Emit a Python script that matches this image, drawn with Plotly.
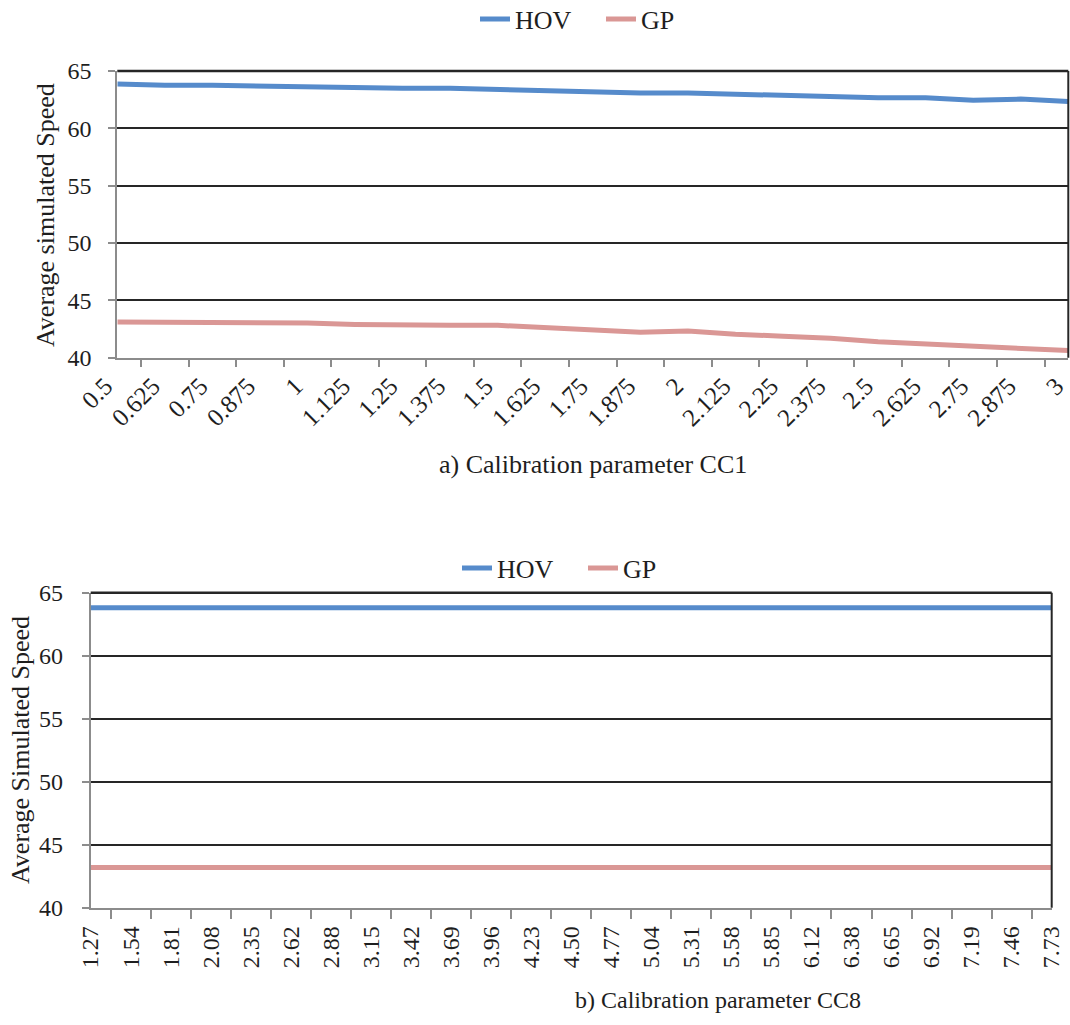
import plotly.graph_objects as go

# ---- data ----
cc1_labels = ["0.5", "0.625", "0.75", "0.875", "1", "1.125", "1.25", "1.375", "1.5", "1.625",
              "1.75", "1.875", "2", "2.125", "2.25", "2.375", "2.5", "2.625", "2.75", "2.875", "3"]
cc1_hov = [63.86, 63.75, 63.75, 63.66, 63.66, 63.49, 63.49, 63.49, 63.37, 63.25,
           63.16, 63.08, 63.08, 62.97, 62.88, 62.78, 62.67, 62.67, 62.44, 62.55, 62.35]
cc1_gp = [43.12, 43.12, 43.12, 43.10, 43.03, 42.90, 42.82, 42.82, 42.82, 42.62,
          42.45, 42.22, 42.32, 42.04, 41.88, 41.70, 41.40, 41.22, 41.08, 40.88, 40.62]

cc8_labels = ["1.27", "1.54", "1.81", "2.08", "2.35", "2.62", "2.88", "3.15", "3.42", "3.69",
              "3.96", "4.23", "4.50", "4.77", "5.04", "5.31", "5.58", "5.85", "6.12", "6.38",
              "6.65", "6.92", "7.19", "7.46", "7.73"]
cc8_hov = [63.8] * 25
cc8_gp = [43.2] * 25

# ---- styles ----
W, H = 1070, 1025
FONT = "Liberation Serif, Times New Roman, serif"
TXT = "#1e1e1e"
HOV_C = "#568BCB"
GP_C = "#DA9795"
GRID_C = "#262626"
AX_C = "#8C8C8C"

def px_x(x):
    return x / W

def px_y(y):
    return 1 - y / H

fig = go.Figure()

fig.add_trace(go.Scatter(x=cc1_labels, y=cc1_hov, mode="lines", name="HOV",
                         line=dict(color=HOV_C, width=5), xaxis="x", yaxis="y", legend="legend"))
fig.add_trace(go.Scatter(x=cc1_labels, y=cc1_gp, mode="lines", name="GP",
                         line=dict(color=GP_C, width=5), xaxis="x", yaxis="y", legend="legend"))
fig.add_trace(go.Scatter(x=cc8_labels, y=cc8_hov, mode="lines", name="HOV",
                         line=dict(color=HOV_C, width=5), xaxis="x2", yaxis="y2", legend="legend2"))
fig.add_trace(go.Scatter(x=cc8_labels, y=cc8_gp, mode="lines", name="GP",
                         line=dict(color=GP_C, width=5), xaxis="x2", yaxis="y2", legend="legend2"))

common_y = dict(range=[40, 65], dtick=5, showgrid=True, gridcolor=GRID_C, gridwidth=1.6,
                showline=True, linecolor=AX_C, linewidth=2, ticks="outside", ticklen=7,
                tickcolor=AX_C, tickwidth=1.5, zeroline=False, automargin=False,
                tickfont=dict(family=FONT, size=24, color=TXT))
common_x = dict(type="category", showgrid=False, showline=True, linecolor=AX_C, linewidth=2,
                ticks="outside", tickson="boundaries", tickcolor=AX_C, tickwidth=1.5,
                zeroline=False, automargin=False)

legend_style = dict(orientation="h", yanchor="middle", xanchor="center",
                    font=dict(family=FONT, size=26, color=TXT), bgcolor="rgba(0,0,0,0)",
                    traceorder="normal", entrywidth=81, entrywidthmode="pixels")

fig.update_layout(
    width=W, height=H,
    margin=dict(l=0, r=0, t=0, b=0, autoexpand=False),
    paper_bgcolor="white", plot_bgcolor="white",
    font=dict(family=FONT, color=TXT),
    xaxis=dict(domain=[px_x(117.3), px_x(1068.3)], anchor="y", tickangle=-45, ticklen=7,
               ticklabelstandoff=2, ticklabelshift=-12,
               tickfont=dict(family=FONT, size=25, color=TXT), **common_x),
    yaxis=dict(domain=[px_y(357.7), px_y(71)], anchor="x", ticklabelstandoff=12, **common_y),
    xaxis2=dict(domain=[px_x(90.7), px_x(1051.7)], anchor="y2", tickangle=-90, ticklen=9,
                ticklabelstandoff=7,
                tickfont=dict(family=FONT, size=24, color=TXT), **common_x),
    yaxis2=dict(domain=[px_y(907.7), px_y(592.7)], anchor="x2", ticklabelstandoff=14, **common_y),
    legend=dict(x=px_x(601), y=px_y(19), **legend_style),
    legend2=dict(x=px_x(583), y=px_y(568), **legend_style),
    showlegend=True,
)

# top and right borders of plot areas
for xr, yr in (("x domain", "y domain"), ("x2 domain", "y2 domain")):
    fig.add_shape(type="line", xref=xr, yref=yr, x0=1, x1=1, y0=0, y1=1,
                  line=dict(color=GRID_C, width=2))
    fig.add_shape(type="line", xref=xr, yref=yr, x0=0, x1=1, y0=1, y1=1,
                  line=dict(color=GRID_C, width=2.5))

# titles
fig.add_annotation(text="a) Calibration parameter CC1", xref="paper", yref="paper",
                   x=px_x(593), y=px_y(465), xanchor="center", yanchor="middle", showarrow=False,
                   font=dict(family=FONT, size=26, color=TXT))
fig.add_annotation(text="b) Calibration parameter CC8", xref="paper", yref="paper",
                   x=px_x(718), y=px_y(1000), xanchor="center", yanchor="middle", showarrow=False,
                   font=dict(family=FONT, size=24, color=TXT))
fig.add_annotation(text="Average simulated Speed", xref="paper", yref="paper",
                   x=px_x(46), y=px_y(215), xanchor="center", yanchor="middle", showarrow=False,
                   textangle=-90, font=dict(family=FONT, size=26, color=TXT))
fig.add_annotation(text="Average Simulated Speed", xref="paper", yref="paper",
                   x=px_x(20), y=px_y(750), xanchor="center", yanchor="middle", showarrow=False,
                   textangle=-90, font=dict(family=FONT, size=26, color=TXT))

fig.write_html(
    "out.html",
    config={"displayModeBar": False},
    post_script="document.body.style.margin='0';document.documentElement.style.overflow='hidden';",
)
